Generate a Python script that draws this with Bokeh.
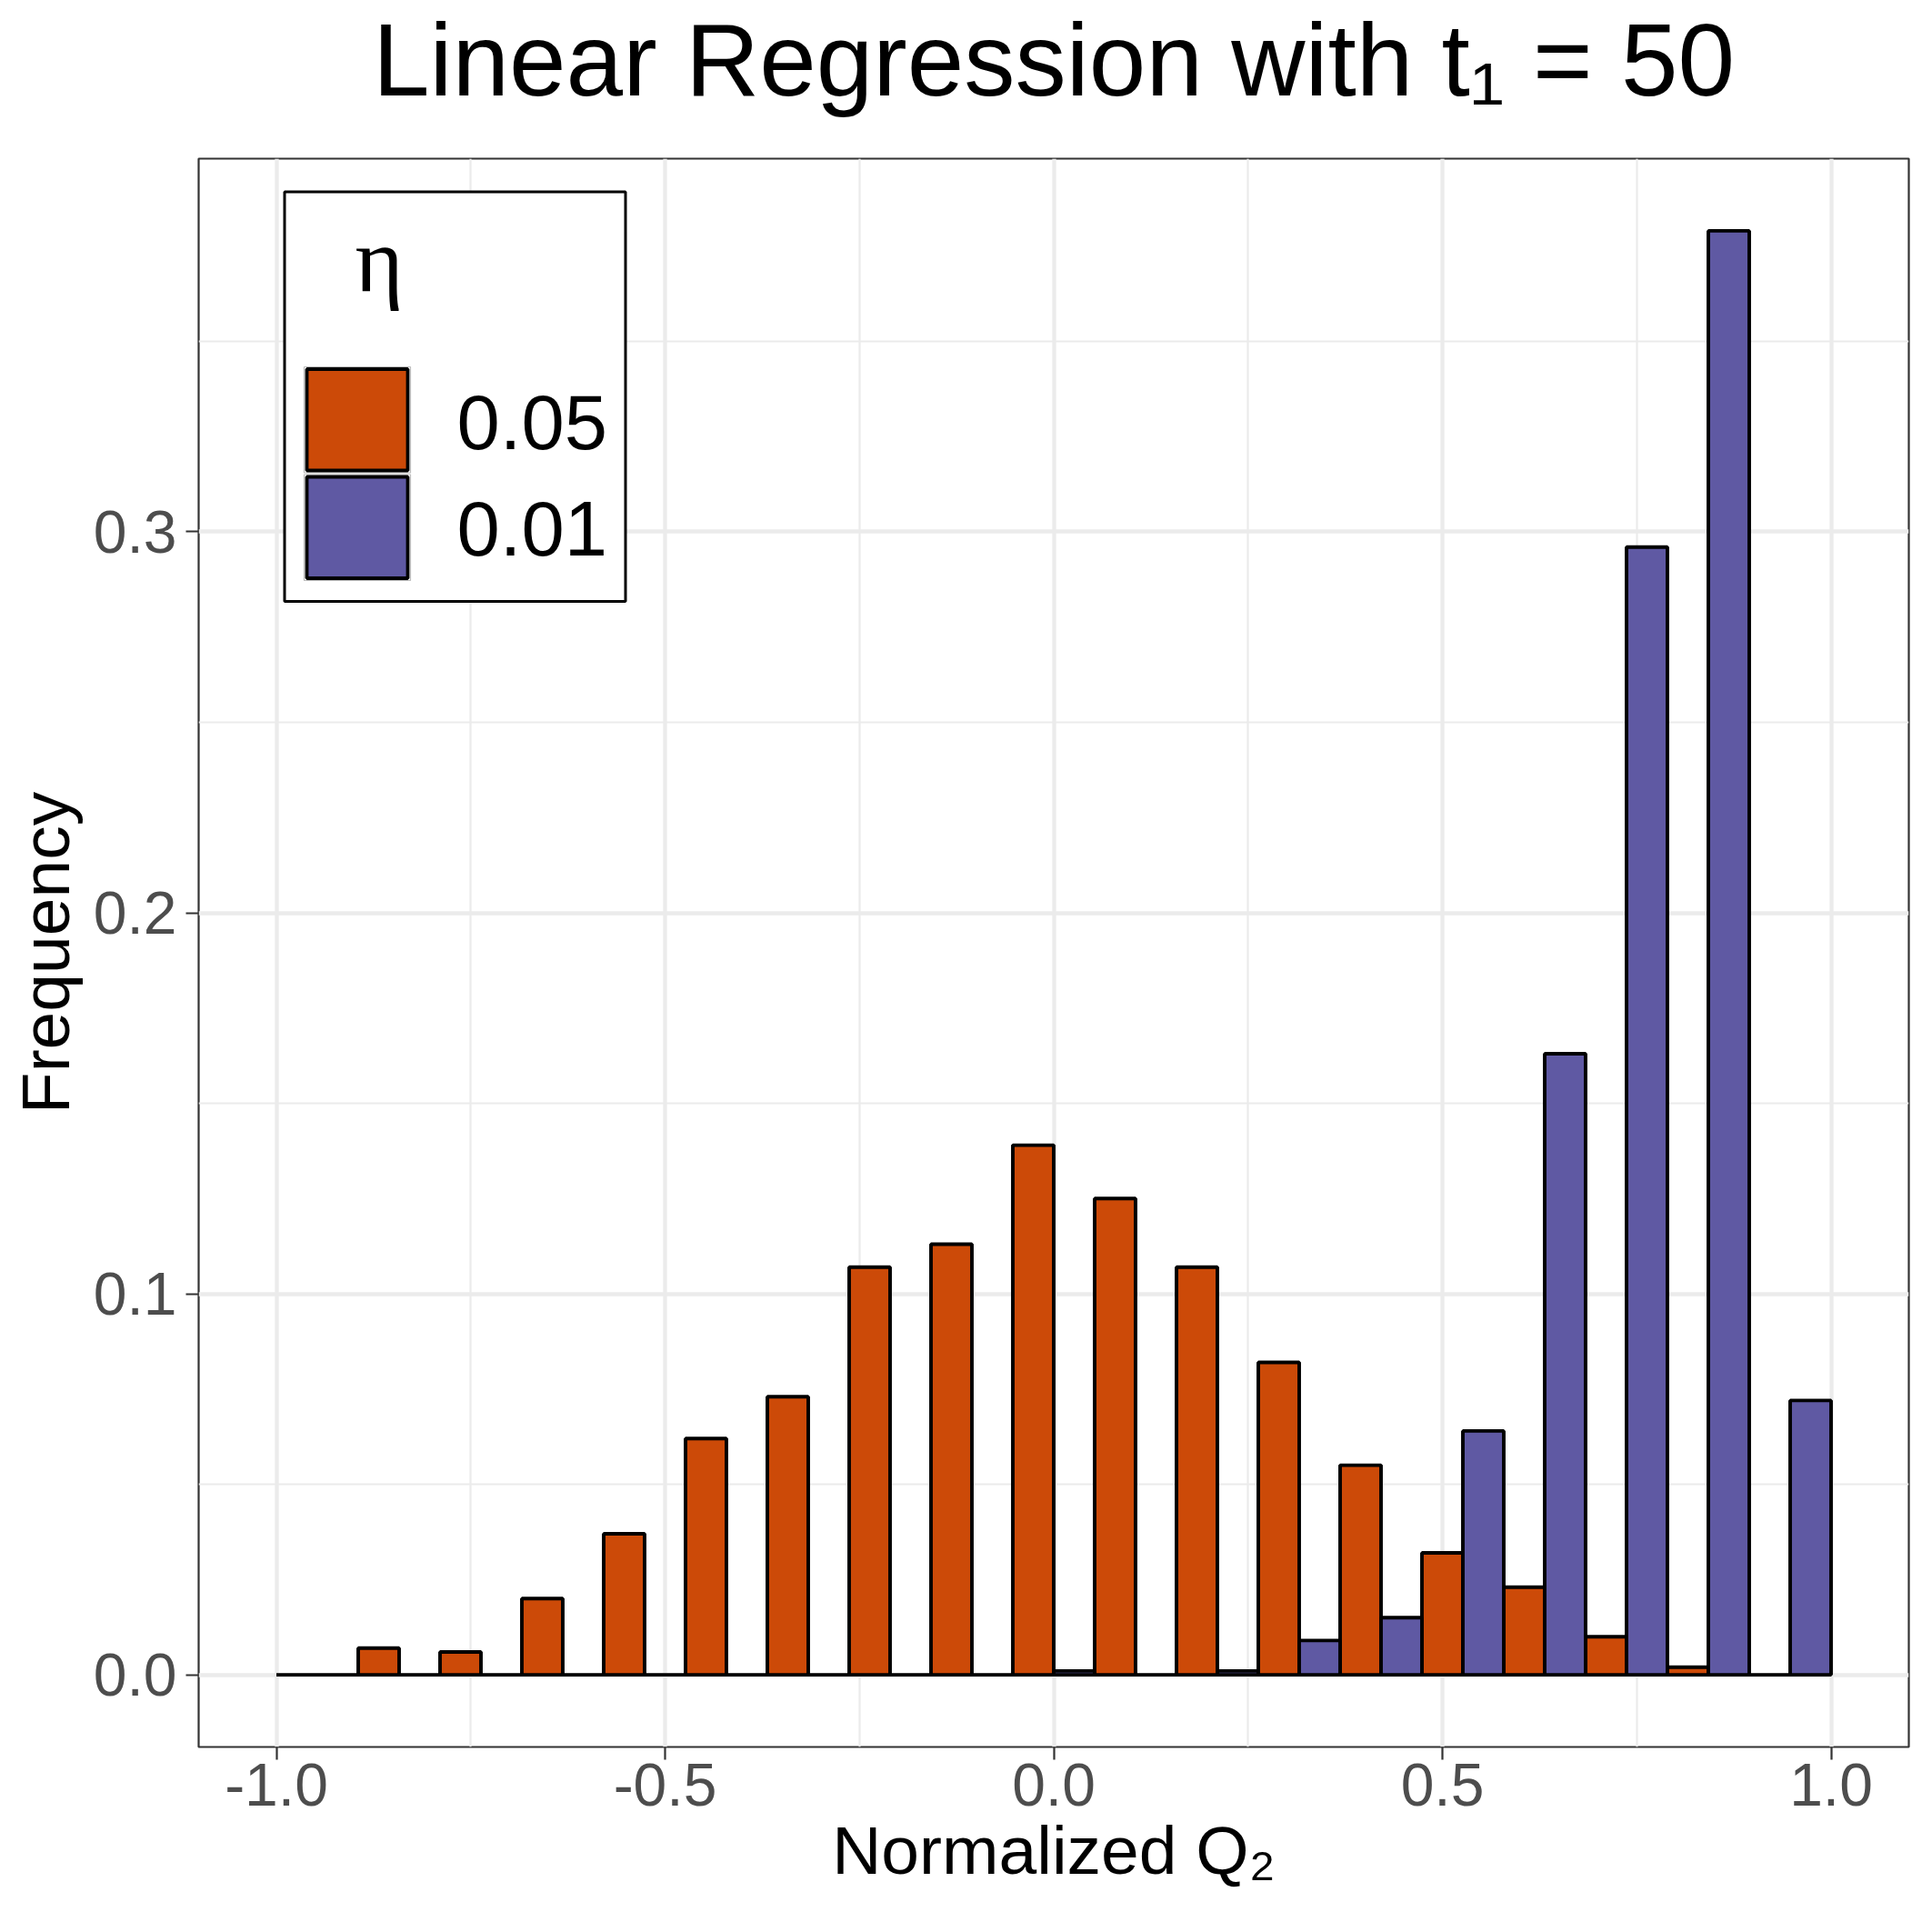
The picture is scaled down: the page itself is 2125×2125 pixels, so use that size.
import numpy as np
from bokeh.plotting import figure
from bokeh.models import Range1d, FixedTicker, PrintfTickFormatter, Label, BoxAnnotation, Title
from bokeh.embed import file_html
from bokeh.resources import INLINE

# ---------------- data ----------------
bin_min, bin_max, n_bins = -1.0, 1.0, 19
eta_labels = ["0.05", "0.01"]
freq_eta_005 = [0.000, 0.007, 0.006, 0.020, 0.037, 0.062, 0.073, 0.107, 0.113, 0.139,
                0.125, 0.107, 0.082, 0.055, 0.032, 0.023, 0.010, 0.002, 0.000]
freq_eta_001 = [0.000, 0.000, 0.000, 0.000, 0.000, 0.000, 0.000, 0.000, 0.000, 0.001,
                0.000, 0.001, 0.009, 0.015, 0.064, 0.163, 0.296, 0.379, 0.072]
x_ticks = [-1.0, -0.5, 0.0, 0.5, 1.0]
x_minor = [-0.75, -0.25, 0.25, 0.75]
y_ticks = [0.0, 0.1, 0.2, 0.3]
y_minor = [0.05, 0.15, 0.25, 0.35]
colors = ["#CC4A08", "#5F59A3"]

title_text = "Linear Regression with t\u2081 = 50"
xlabel_text = "Normalized Q\u2082"
ylabel_text = "Frequency"
legend_title = "\u03b7"

# ---------------- layout ----------------
FL, FT, FW, FH = 218, 174, 1881, 1747
X0, X1 = -1.1, 1.1
Y0, Y1 = -0.01895, 0.39795

def dx(px):
    return X0 + (px - FL) / FW * (X1 - X0)

def dy(py):
    return Y0 + (FT + FH - py) / FH * (Y1 - Y0)

p = figure(frame_width=FW, frame_height=FH,
           x_range=Range1d(X0, X1), y_range=Range1d(Y0, Y1),
           output_backend="svg", toolbar_location=None,
           min_border_left=FL, min_border_top=FT,
           min_border_right=20, min_border_bottom=190)
p.background_fill_color = "white"
p.border_fill_color = "white"
p.outline_line_color = "#333333"
p.outline_line_width = 2.2

# empty spacer between the title and the panel
p.add_layout(Title(text=" ", text_font_size="10px", standoff=39), "above")

p.title.text = title_text
p.title.text_font = "Liberation Sans"
p.title.text_font_size = "112.5px"
p.title.text_font_style = "normal"
p.title.text_color = "black"
p.title.align = "center"
p.title.standoff = -12

for ax, tk, mn in ((p.xaxis, x_ticks, x_minor), (p.yaxis, y_ticks, y_minor)):
    ax.ticker = FixedTicker(ticks=tk, minor_ticks=mn)
    ax.formatter = PrintfTickFormatter(format="%.1f")
    ax.axis_line_color = None
    ax.major_tick_out = 14
    ax.major_tick_in = 0
    ax.major_tick_line_color = "#333333"
    ax.major_tick_line_width = 2.2
    ax.minor_tick_line_color = None
    ax.major_label_text_font = "Liberation Sans"
    ax.major_label_text_font_size = "66px"
    ax.major_label_text_color = "#4D4D4D"
    ax.axis_label_text_font = "Liberation Sans"
    ax.axis_label_text_font_size = "75px"
    ax.axis_label_text_font_style = "normal"
    ax.axis_label_text_color = "black"
p.xaxis.major_label_standoff = 4
p.yaxis.major_label_standoff = 10
p.xaxis.axis_label = xlabel_text
p.yaxis.axis_label = ylabel_text
p.xaxis.axis_label_standoff = 4
p.yaxis.axis_label_standoff = 8

for g in (p.xgrid, p.ygrid):
    g.grid_line_color = "#EBEBEB"
    g.grid_line_width = 4.3
    g.minor_grid_line_color = "#EBEBEB"
    g.minor_grid_line_width = 2.2

# ---------------- bars ----------------
edges = np.linspace(bin_min, bin_max, n_bins + 1)
mids = (edges[:-1] + edges[1:]) / 2
p.quad(left=edges[:-1], right=mids, bottom=0, top=freq_eta_005,
       fill_color=colors[0], line_color="black", line_width=3.9)
p.quad(left=mids, right=edges[1:], bottom=0, top=freq_eta_001,
       fill_color=colors[1], line_color="black", line_width=3.9)

# ---------------- legend (drawn inside the panel) ----------------
def lab(text, px, py, size, font="Liberation Sans", color="black"):
    p.add_layout(Label(x=dx(px), y=dy(py), text=text, text_font=font,
                       text_font_size=f"{size}px", text_color=color,
                       text_align="left", text_baseline="alphabetic"))

p.add_layout(BoxAnnotation(left=dx(312.5), right=dx(687.5), top=dy(210.5), bottom=dy(661),
                           fill_color="white", fill_alpha=1,
                           line_color="black", line_alpha=1, line_width=3))
key_rows = [(405.5, 517), (524, 635.5)]
for (t, b), c in zip(key_rows, colors):
    p.add_layout(BoxAnnotation(left=dx(334), right=dx(451), top=dy(t - 2.5), bottom=dy(b + 2.5),
                               fill_color=None, fill_alpha=0,
                               line_color="#BDBDBD", line_alpha=1, line_width=1.2))
    p.add_layout(BoxAnnotation(left=dx(337), right=dx(448), top=dy(t), bottom=dy(b),
                               fill_color=c, fill_alpha=1,
                               line_color="black", line_alpha=1, line_width=3.8))
lab(legend_title, 390, 285, 102, font="Liberation Serif")
lab(eta_labels[0], 502, 464, 85)
lab(eta_labels[1], 502, 581, 85)

open("out.html", "w").write(file_html(p, INLINE))
